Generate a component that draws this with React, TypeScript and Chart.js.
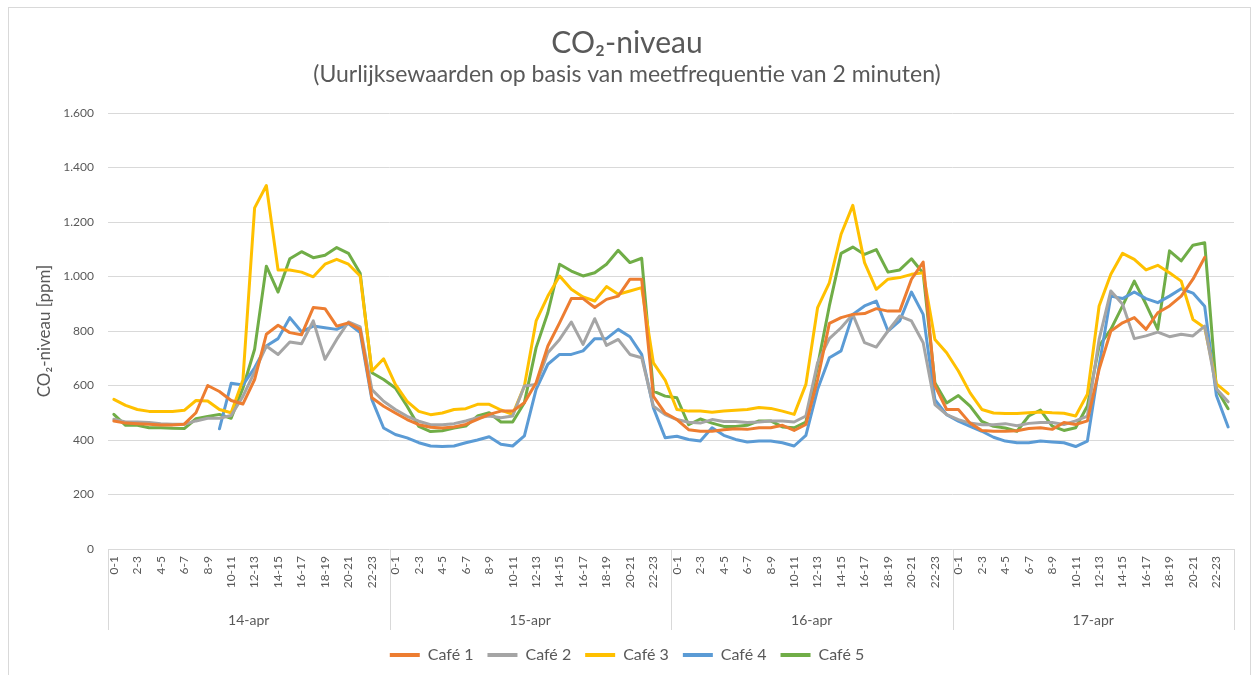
import React, { useEffect, useRef } from 'react';
import { Chart, registerables } from 'chart.js';

Chart.register(...registerables);

const FONT = 'Lato, "Liberation Sans", sans-serif';
const TEXT = '#595959';
const GRID = '#D9D9D9';

const days = ['14-apr', '15-apr', '16-apr', '17-apr'];
const hourLabels = [
  '0-1', '1-2', '2-3', '3-4', '4-5', '5-6', '6-7', '7-8', '8-9', '9-10', '10-11', '11-12',
  '12-13', '13-14', '14-15', '15-16', '16-17', '17-18', '18-19', '19-20', '20-21', '21-22', '22-23', '23-24',
];
const yTicks = [0, 200, 400, 600, 800, 1000, 1200, 1400, 1600];

const cafe1 = [
  470, 462, 460, 458, 455, 455, 458, 500, 600, 578, 545, 532, 622, 788, 821, 794, 786, 886, 882, 818, 830, 806, 555, 524,
  499, 475, 456, 447, 444, 448, 457, 476, 494, 506, 506, 537, 610, 745, 830, 919, 919, 886, 916, 928, 990, 990, 560, 499,
  475, 438, 432, 432, 438, 441, 439, 445, 445, 454, 435, 457, 622, 828, 849, 861, 864, 882, 873, 873, 990, 1053, 600, 512,
  512, 462, 435, 432, 432, 434, 442, 445, 439, 464, 457, 470, 659, 800, 830, 849, 806, 867, 892, 928, 990, 1070, null, null,
];
const cafe2 = [
  476, 466, 466, 464, 460, 458, 458, 470, 480, 480, 490, 560, 650, 745, 714, 760, 753, 837, 696, 769, 833, 815, 585, 542,
  512, 487, 469, 456, 456, 460, 470, 482, 488, 482, 488, 598, 604, 720, 769, 833, 751, 845, 747, 769, 714, 702, 524, 493,
  475, 465, 462, 475, 468, 468, 464, 466, 470, 470, 466, 488, 684, 772, 812, 861, 757, 741, 800, 855, 837, 757, 530, 493,
  475, 462, 456, 456, 460, 452, 461, 464, 464, 457, 470, 488, 769, 947, 898, 772, 782, 796, 779, 788, 782, 818, 588, 540,
];
const cafe3 = [
  549, 527, 512, 505, 505, 505, 509, 545, 543, 512, 500, 620, 1252, 1334, 1024, 1024, 1016, 999, 1045, 1063, 1045, 1002, 653, 698,
  604, 542, 505, 493, 499, 512, 515, 531, 531, 510, 494, 598, 837, 928, 1002, 953, 925, 910, 963, 935, 947, 959, 683, 620,
  512, 506, 506, 502, 506, 509, 512, 519, 516, 506, 494, 604, 886, 977, 1155, 1261, 1051, 953, 990, 996, 1008, 1014, 769, 720,
  653, 573, 512, 499, 497, 497, 500, 503, 500, 498, 488, 568, 892, 1008, 1085, 1063, 1024, 1041, 1014, 983, 842, 812, 606, 570,
];
const cafe4 = [
  null, null, null, null, null, null, null, null, null, 441, 608, 602, 665, 745, 772, 849, 797, 818, 812, 806, 827, 794, 548, 444,
  420, 408, 390, 378, 376, 378, 390, 400, 412, 384, 378, 415, 586, 678, 714, 714, 727, 772, 772, 806, 779, 714, 518, 408,
  414, 402, 396, 445, 417, 402, 393, 396, 396, 390, 378, 417, 586, 702, 727, 861, 892, 910, 800, 837, 943, 861, 548, 493,
  469, 450, 432, 410, 396, 390, 390, 396, 393, 390, 376, 396, 672, 928, 919, 943, 919, 904, 928, 955, 939, 891, 563, 448,
];
const cafe5 = [
  494, 454, 454, 445, 445, 443, 442, 478, 486, 494, 480, 590, 733, 1038, 943, 1065, 1091, 1069, 1078, 1106, 1085, 1012, 647, 622,
  591, 524, 450, 431, 434, 444, 451, 488, 500, 466, 466, 537, 739, 867, 1045, 1020, 1002, 1014, 1045, 1096, 1051, 1067, 579, 561,
  555, 456, 477, 462, 450, 450, 454, 470, 470, 448, 445, 466, 672, 892, 1085, 1108, 1081, 1099, 1016, 1024, 1065, 1012, 610, 536,
  563, 524, 468, 450, 444, 432, 488, 510, 451, 435, 445, 525, 745, 806, 892, 983, 898, 806, 1094, 1057, 1115, 1124, 588, 515,
];

const seriesNames = ['Café 1', 'Café 2', 'Café 3', 'Café 4', 'Café 5'];
const seriesColors = ['#ED7D31', '#A5A5A5', '#FFC000', '#5B9BD5', '#70AD47'];
const seriesValues = [cafe1, cafe2, cafe3, cafe4, cafe5];

const allLabels: string[] = [];
days.forEach(() => hourLabels.forEach((h) => allLabels.push(h)));

const fmt = (v: number) =>
  v >= 1000 ? `${Math.floor(v / 1000)}.${String(v % 1000).padStart(3, '0')}` : String(v);

const framePlugin = {
  id: 'frame',
  beforeDraw(chart: any) {
    const { ctx } = chart;
    ctx.save();
    ctx.fillStyle = '#ffffff';
    ctx.fillRect(0, 0, chart.width, chart.height);
    ctx.strokeStyle = GRID;
    ctx.lineWidth = 1;
    ctx.strokeRect(8.5, 7.5, 1242, 700);
    ctx.restore();
  },
  afterDraw(chart: any) {
    const { ctx, chartArea } = chart;
    const x = chart.scales.x;
    const n = hourLabels.length;
    const bounds: number[] = [];
    for (let d = 0; d <= days.length; d++) {
      if (d === 0) bounds.push(chartArea.left);
      else if (d === days.length) bounds.push(chartArea.right);
      else bounds.push((x.getPixelForValue(d * n - 1) + x.getPixelForValue(d * n)) / 2);
    }
    ctx.save();
    ctx.strokeStyle = GRID;
    ctx.lineWidth = 1;
    bounds.forEach((b) => {
      const px = Math.round(b) + 0.5;
      ctx.beginPath();
      ctx.moveTo(px, chartArea.bottom);
      ctx.lineTo(px, chartArea.bottom + 81);
      ctx.stroke();
    });
    ctx.fillStyle = TEXT;
    ctx.font = `14px ${FONT}`;
    ctx.textAlign = 'center';
    ctx.textBaseline = 'middle';
    days.forEach((d, i) => {
      ctx.fillText(d, (bounds[i] + bounds[i + 1]) / 2, chartArea.bottom + 71);
    });
    ctx.restore();
  },
};

export default function App() {
  const ref = useRef<HTMLCanvasElement | null>(null);
  useEffect(() => {
    if (!ref.current) return;
    const chart = new Chart(ref.current, {
      type: 'line',
      plugins: [framePlugin],
      data: {
        labels: allLabels,
        datasets: seriesNames.map((name, i) => ({
          label: name,
          data: seriesValues[i],
          borderColor: seriesColors[i],
          backgroundColor: seriesColors[i],
          borderWidth: 3,
          pointRadius: 0,
          tension: 0,
          spanGaps: false,
          borderJoinStyle: 'round' as const,
          borderCapStyle: 'round' as const,
        })),
      },
      options: {
        responsive: false,
        animation: false,
        layout: { padding: { left: 20, right: 25, top: 0, bottom: 2 } },
        plugins: {
          title: {
            display: true,
            text: 'CO₂-niveau',
            color: TEXT,
            font: { family: FONT, size: 30, weight: 'normal' },
            padding: { top: 25, bottom: 0 },
          },
          subtitle: {
            display: true,
            text: '(Uurlijksewaarden op basis van meetfrequentie van 2 minuten)',
            color: TEXT,
            font: { family: FONT, size: 23, weight: 'normal' },
            padding: { top: 0, bottom: 24.4 },
          },
          legend: {
            position: 'bottom',
            labels: {
              boxWidth: 30,
              boxHeight: 4,
              padding: 14,
              color: TEXT,
              font: { family: FONT, size: 16 },
              generateLabels: (chart: any) =>
                Chart.defaults.plugins.legend.labels
                  .generateLabels(chart)
                  .map((l: any) => ({ ...l, lineWidth: 0 })),
            },
          },
          tooltip: { enabled: false },
        },
        scales: {
          x: {
            type: 'category',
            offset: true,
            grid: { display: false, drawTicks: false },
            border: { display: false },
            ticks: {
              autoSkip: false,
              maxRotation: 90,
              minRotation: 90,
              padding: 7,
              color: TEXT,
              font: { family: FONT, size: 12 },
              callback: (_v: any, idx: number) => (idx % 2 === 0 ? allLabels[idx] : ''),
            },
            afterFit: (scale: any) => {
              scale.height = 84;
            },
          },
          y: {
            min: 0,
            max: 1600,
            afterBuildTicks: (scale: any) => {
              scale.ticks = yTicks.map((v) => ({ value: v }));
            },
            grid: { color: GRID, drawTicks: false, lineWidth: 1 },
            border: { display: false },
            ticks: {
              padding: 14,
              color: TEXT,
              font: { family: FONT, size: 12 },
              callback: (v: any) => fmt(Number(v)),
            },
            title: {
              display: true,
              text: 'CO₂-niveau [ppm]',
              color: TEXT,
              font: { family: FONT, size: 17 },
              padding: { top: 14, bottom: 0 },
            },
            afterFit: (scale: any) => {
              scale.width = 88;
            },
          },
        },
      },
    });
    return () => chart.destroy();
  }, []);
  return (
    <div style={{ position: 'fixed', left: 0, top: 0, width: 1259, height: 675, background: '#fff' }}>
      <canvas ref={ref} width={1259} height={675} style={{ width: 1259, height: 675, display: 'block' }} />
    </div>
  );
}
